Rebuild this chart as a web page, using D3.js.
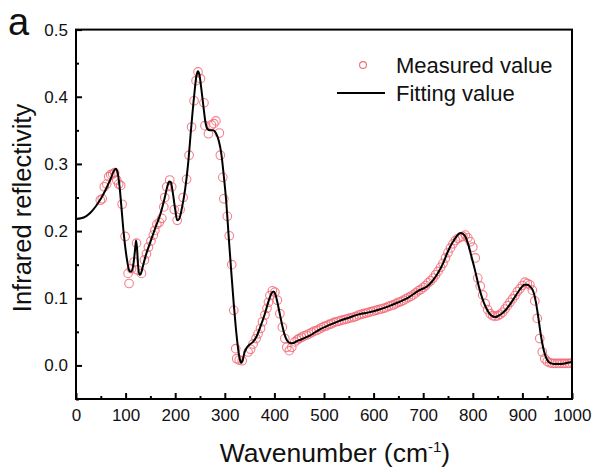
<!DOCTYPE html>
<html>
<head>
<meta charset="utf-8">
<script src="https://cdn.jsdelivr.net/npm/d3@7"></script>
<style>
  html, body { margin: 0; padding: 0; background: #fff; }
  svg { display: block; font-family: "Liberation Sans", Arial, sans-serif; }
</style>
</head>
<body>
<svg id="chart" width="597" height="473"></svg>
<script>
// Measured infrared reflectivity (circles)
const measuredWavenumber = [
  49, 53, 57, 62, 66, 70, 74, 78, 82, 86, 90, 93, 99, 105, 107, 112, 117, 122, 124, 132,
  138, 142, 146, 151, 156, 159, 163, 168, 173, 177, 179, 183, 189, 193, 198, 204, 210, 216, 223, 228,
  233, 238, 242, 246, 251, 258, 260, 267, 273, 278, 282, 289, 291, 296, 298, 305, 309, 314, 318, 322,
  324, 329, 335, 347, 352, 357, 363, 367, 372, 376, 381, 385, 388, 391, 396, 401, 406, 411, 416, 421,
  425, 430, 435, 441, 446,
  450, 455, 460, 465, 470, 475, 480, 485, 490, 495, 500, 505, 510, 515, 520, 525, 530, 535, 540, 545,
  550, 555, 560, 565, 570, 575, 580, 585, 590, 595, 600, 605, 610, 615, 620, 625, 630, 635, 640, 645,
  650, 655, 660, 665, 670, 675, 680, 685, 690, 695, 700, 705, 710, 715, 720, 725, 730, 735, 740, 745,
  750, 755, 760, 765, 770, 775, 780, 785, 790, 795, 800, 805, 810, 815, 820, 825, 830, 835, 840, 845,
  850, 855, 860, 865, 870, 875, 880, 885, 890, 895, 900, 905, 910, 915, 920, 925, 930, 935, 940, 945,
  950, 955, 960, 965, 970, 975, 980, 985, 990, 995, 1000
];
const measuredValue = [
  0.246, 0.248, 0.266, 0.270, 0.281, 0.284, 0.285, 0.287, 0.276, 0.270, 0.268, 0.240, 0.192, 0.137, 0.122, 0.144, 0.154, 0.182, 0.142, 0.137,
  0.157, 0.166, 0.176, 0.185, 0.194, 0.201, 0.210, 0.213, 0.219, 0.236, 0.250, 0.266, 0.276, 0.266, 0.232, 0.216, 0.232, 0.250, 0.277, 0.313,
  0.355, 0.394, 0.424, 0.437, 0.427, 0.391, 0.357, 0.345, 0.358, 0.360, 0.364, 0.346, 0.313, 0.280, 0.248, 0.222, 0.193, 0.150, 0.082, 0.025,
  0.010, 0.008, 0.007, 0.020, 0.024, 0.032, 0.040, 0.047, 0.055, 0.065, 0.075, 0.085, 0.094, 0.104, 0.111, 0.109, 0.097, 0.077, 0.057, 0.040,
  0.027, 0.022, 0.027, 0.035, 0.038,
  0.040, 0.042, 0.044, 0.045, 0.047, 0.049, 0.051, 0.052, 0.054, 0.056, 0.058, 0.059, 0.061, 0.062, 0.064, 0.065, 0.066, 0.067, 0.068, 0.069,
  0.070, 0.071, 0.072, 0.073, 0.075, 0.076, 0.077, 0.078, 0.079, 0.080, 0.081, 0.082, 0.083, 0.084, 0.085, 0.086, 0.088, 0.089, 0.090, 0.092,
  0.094, 0.095, 0.097, 0.099, 0.101, 0.103, 0.105, 0.108, 0.111, 0.113, 0.116, 0.119, 0.123, 0.126, 0.130, 0.135, 0.140, 0.146, 0.152, 0.160,
  0.168, 0.175, 0.181, 0.186, 0.189, 0.191, 0.192, 0.194, 0.190, 0.184, 0.176, 0.160, 0.130, 0.118, 0.105, 0.092, 0.083, 0.077, 0.074, 0.073,
  0.074, 0.076, 0.079, 0.084, 0.089, 0.094, 0.099, 0.104, 0.110, 0.114, 0.119, 0.124, 0.122, 0.120, 0.112, 0.096, 0.070, 0.040, 0.020, 0.010,
  0.006, 0.004, 0.003, 0.003, 0.003, 0.003, 0.003, 0.003, 0.003, 0.003, 0.004
];

// Fitted reflectivity (solid line)
const fitWavenumber = [
  0, 10, 20, 30, 40, 50, 60, 70, 76, 80, 84, 88, 92, 96, 100, 104, 108, 112, 116, 119,
  121, 123, 125, 128, 131, 135, 140, 150, 160, 170, 178, 184, 188, 191, 195, 200, 204, 208, 214, 220,
  226, 232, 238, 243, 246, 249, 253, 257, 261, 265, 270, 276, 282, 288, 293, 298, 303, 308, 313, 318,
  322, 326, 330, 333, 336, 340, 345, 350, 357, 364, 372, 380, 388, 394, 398, 402, 406, 410, 415, 420,
  425, 430, 436, 445, 455, 470, 490, 510, 530, 550, 570, 590, 610, 630, 650, 670, 690, 710, 720, 730,
  740, 750, 760, 768, 775, 780, 785, 790, 797, 804, 812, 820, 828, 836, 845, 852, 860, 868, 876, 884,
  892, 898, 904, 910, 916, 922, 927, 932, 937, 942, 947, 952, 958, 965, 975, 985, 1000
];
const fitValue = [
  0.218, 0.219, 0.222, 0.228, 0.237, 0.248, 0.262, 0.278, 0.289, 0.293, 0.287, 0.265, 0.232, 0.198, 0.172, 0.152, 0.140, 0.140, 0.152, 0.172,
  0.186, 0.175, 0.150, 0.135, 0.137, 0.148, 0.162, 0.184, 0.205, 0.225, 0.247, 0.266, 0.274, 0.273, 0.258, 0.232, 0.216, 0.218, 0.236, 0.262,
  0.300, 0.352, 0.400, 0.432, 0.438, 0.432, 0.410, 0.385, 0.362, 0.352, 0.350, 0.350, 0.346, 0.334, 0.315, 0.282, 0.243, 0.190, 0.140, 0.092,
  0.058, 0.030, 0.010, 0.004, 0.008, 0.020, 0.027, 0.031, 0.035, 0.043, 0.058, 0.075, 0.095, 0.107, 0.110, 0.106, 0.094, 0.080, 0.062, 0.047,
  0.038, 0.034, 0.033, 0.036, 0.039, 0.044, 0.053, 0.060, 0.066, 0.071, 0.076, 0.079, 0.083, 0.088, 0.094, 0.101, 0.111, 0.119, 0.127, 0.138,
  0.152, 0.170, 0.184, 0.193, 0.197, 0.196, 0.192, 0.182, 0.163, 0.143, 0.118, 0.098, 0.084, 0.075, 0.072, 0.074, 0.078, 0.084, 0.092, 0.101,
  0.110, 0.116, 0.120, 0.120, 0.117, 0.110, 0.095, 0.072, 0.046, 0.026, 0.013, 0.006, 0.003, 0.002, 0.002, 0.003, 0.005
];

// Axis ticks
const xMajorTicks = [0, 100, 200, 300, 400, 500, 600, 700, 800, 900, 1000];
const xMinorTicks = [50, 150, 250, 350, 450, 550, 650, 750, 850, 950];
const yMajorTicks = [0.0, 0.1, 0.2, 0.3, 0.4, 0.5];
const yMinorTicks = [-0.05, 0.05, 0.15, 0.25, 0.35, 0.45];

const svg = d3.select("#chart");
const plot = { left: 76, right: 572, top: 29.6, bottom: 399 };

const x = d3.scaleLinear().domain([0, 1000]).range([plot.left, plot.right]);
const y = d3.scaleLinear().domain([-0.05, 0.5]).range([plot.bottom, plot.top]);

const measured = measuredWavenumber.map((v, i) => ({ v, r: measuredValue[i] }));
const fitted = fitWavenumber.map((v, i) => ({ v, r: fitValue[i] }));

svg.append("clipPath").attr("id", "plotClip")
  .append("rect")
  .attr("x", plot.left).attr("y", plot.top)
  .attr("width", plot.right - plot.left).attr("height", plot.bottom - plot.top);

// measured points
const pointColor = "#f26b76";
svg.append("g")
  .attr("clip-path", "url(#plotClip)")
  .selectAll("circle")
  .data(measured)
  .join("circle")
  .attr("cx", d => x(d.v))
  .attr("cy", d => y(d.r))
  .attr("r", 4.3)
  .attr("fill", "none")
  .attr("stroke", pointColor)
  .attr("stroke-opacity", 0.85)
  .attr("stroke-width", 1.1);

// fitted curve
const line = d3.line()
  .x(d => x(d.v))
  .y(d => y(d.r))
  .curve(d3.curveMonotoneX);

svg.append("path")
  .datum(fitted)
  .attr("clip-path", "url(#plotClip)")
  .attr("d", line)
  .attr("fill", "none")
  .attr("stroke", "#000")
  .attr("stroke-width", 2)
  .attr("stroke-linejoin", "round");

// axes with inward ticks
const fontTick = 17;
svg.append("g")
  .attr("transform", `translate(0,${plot.bottom})`)
  .call(d3.axisBottom(x).tickValues(xMajorTicks).tickSize(-6).tickPadding(10).tickFormat(d3.format("d")));
svg.append("g")
  .attr("transform", `translate(0,${plot.bottom})`)
  .call(d3.axisBottom(x).tickValues(xMinorTicks).tickSize(-3).tickFormat(""));
svg.append("g")
  .attr("transform", `translate(${plot.left},0)`)
  .call(d3.axisLeft(y).tickValues(yMajorTicks).tickSize(-6).tickPadding(8).tickFormat(d3.format(".1f")));
svg.append("g")
  .attr("transform", `translate(${plot.left},0)`)
  .call(d3.axisLeft(y).tickValues(yMinorTicks).tickSize(-3).tickFormat(""));

svg.selectAll(".domain").remove();
svg.selectAll(".tick line").attr("stroke", "#000").attr("stroke-width", 2);
svg.selectAll(".tick text")
  .attr("fill", "#111")
  .style("font-size", fontTick + "px")
  .style("font-family", "'Liberation Sans', Arial, sans-serif");

// frame
svg.append("rect")
  .attr("x", plot.left).attr("y", plot.top)
  .attr("width", plot.right - plot.left).attr("height", plot.bottom - plot.top)
  .attr("fill", "none").attr("stroke", "#000").attr("stroke-width", 2);

// axis titles
const xTitle = svg.append("text")
  .attr("x", 335)
  .attr("y", 462)
  .attr("text-anchor", "middle")
  .style("font-size", "26.5px")
  .attr("fill", "#111");
xTitle.append("tspan").text("Wavenumber (cm");
xTitle.append("tspan").attr("dy", -10).style("font-size", "15px").text("-1");
xTitle.append("tspan").attr("dy", 10).text(")");

svg.append("text")
  .attr("transform", `translate(31,208) rotate(-90)`)
  .attr("text-anchor", "middle")
  .style("font-size", "25.5px")
  .attr("fill", "#111")
  .text("Infrared reflectivity");

// panel label
svg.append("text")
  .attr("x", 8).attr("y", 35)
  .style("font-size", "38px")
  .attr("fill", "#111")
  .text("a");

// legend
const legend = svg.append("g");
legend.append("circle")
  .attr("cx", 363).attr("cy", 65).attr("r", 3.4)
  .attr("fill", "none").attr("stroke", pointColor).attr("stroke-width", 1.1);
legend.append("text")
  .attr("x", 396).attr("y", 65).attr("dy", "0.35em")
  .style("font-size", "22px").attr("fill", "#111")
  .text("Measured value");
legend.append("line")
  .attr("x1", 337).attr("x2", 385).attr("y1", 93).attr("y2", 93)
  .attr("stroke", "#000").attr("stroke-width", 2);
legend.append("text")
  .attr("x", 396).attr("y", 93).attr("dy", "0.35em")
  .style("font-size", "22px").attr("fill", "#111")
  .text("Fitting value");
</script>
</body>
</html>
